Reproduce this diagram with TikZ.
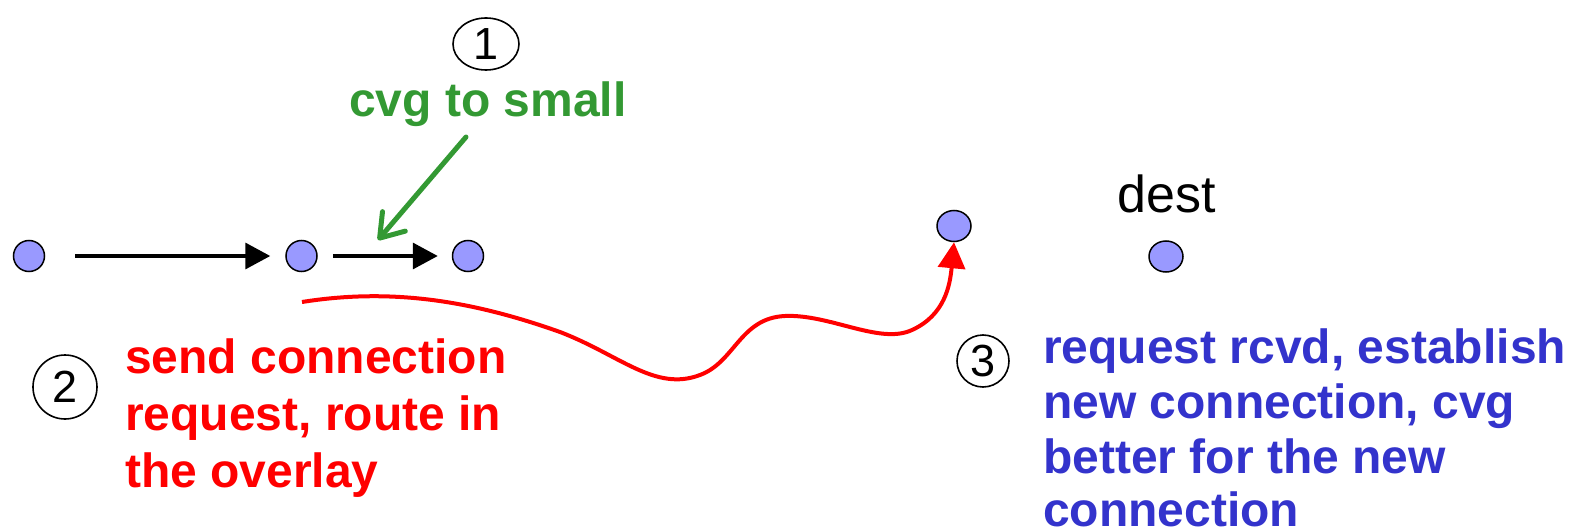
\documentclass[tikz,border=0pt]{standalone}
\usepackage{fontspec}
\setmainfont{Liberation Sans}
\usetikzlibrary{arrows.meta,shapes.geometric}

\definecolor{nodefill}{HTML}{9999FF}
\definecolor{cvggreen}{HTML}{339933}
\definecolor{reqred}{HTML}{FF0000}
\definecolor{estblue}{HTML}{3333CC}

\tikzset{
  peer/.style={ellipse, draw=black, line width=1.5pt, fill=nodefill,
    minimum width=31pt, minimum height=31pt, inner sep=0pt},
  bigpeer/.style={peer, minimum width=34pt},
  stepnum/.style={ellipse, draw=black, line width=1.6pt, inner sep=0pt,
    font=\fontsize{45}{45}\selectfont},
  boldtxt/.style={anchor=base west, inner sep=0pt,
    font=\fontsize{48}{48}\selectfont\bfseries},
  hop/.style={line width=3.5pt, -{Triangle[length=25pt,width=26pt]}},
  route/.style={line width=4pt, draw=reqred, -{Triangle[length=26pt,width=27pt]}},
  hint/.style={line width=5pt, draw=cvggreen, line cap=round,
    -{Straight Barb[length=22pt,width=30pt,line width=5pt,round]}}
}

\begin{document}
\begin{tikzpicture}[x=1pt,y=-1pt]
\useasboundingbox (0,0) rectangle (1577,532);

% overlay peers
\node[peer] (n1) at (29,256) {};
\node[peer] (n2) at (301.5,256) {};
\node[peer] (n3) at (468,256) {};
\node[bigpeer] (n4) at (954,226) {};
\node[bigpeer] (n5) at (1166,256.5) {};
\node[anchor=base, inner sep=0pt, font=\fontsize{52}{52}\selectfont] (dest) at (1167,212) {dest};

% current connection path
\draw[hop, shorten <=30pt, shorten >=15pt] (n1) -- (n2);
\draw[hop, shorten <=15pt, shorten >=14pt] (n2) -- (n3);

% step 1
\node[stepnum, minimum width=66pt, minimum height=52pt] (s1) at (486,44) {1};
\node[anchor=base, inner sep=0pt, text=cvggreen,
  font=\fontsize{48}{48}\selectfont\bfseries] (cvg) at (488,117) {cvg to small};
\coordinate (cvgfrom) at (466,137);
\coordinate (cvgto) at (378,240);
\draw[hint] (cvgfrom) -- (cvgto);

% step 2
\node[stepnum, minimum width=64pt, minimum height=64pt] (s2) at (65,387) {2};
\node[boldtxt, text=reqred] (r1) at (125,373) {send connection};
\node[boldtxt, text=reqred] (r2) at (125,430) {request, route in};
\node[boldtxt, text=reqred] (r3) at (125,487) {the overlay};

\coordinate (reqstart) at (302,302);
\draw[route] (reqstart)
  .. controls (390,288) and (470,300) .. (560,332)
  .. controls (620,355) and (655,392) .. (700,375)
  .. controls (735,362) and (740,318) .. (785,316)
  .. controls (830,314) and (880,345) .. (912,330)
  .. controls (945,315) and (950,285) .. (n4.south);

% step 3
\node[stepnum, minimum width=52pt, minimum height=52pt] (s3) at (983,361) {3};
\node[boldtxt, text=estblue] (b1) at (1043,363) {request rcvd, establish};
\node[boldtxt, text=estblue] (b2) at (1043,418) {new connection, cvg};
\node[boldtxt, text=estblue] (b3) at (1043,473) {better for the new};
\node[boldtxt, text=estblue] (b4) at (1043,526) {connection};
\end{tikzpicture}
\end{document}
